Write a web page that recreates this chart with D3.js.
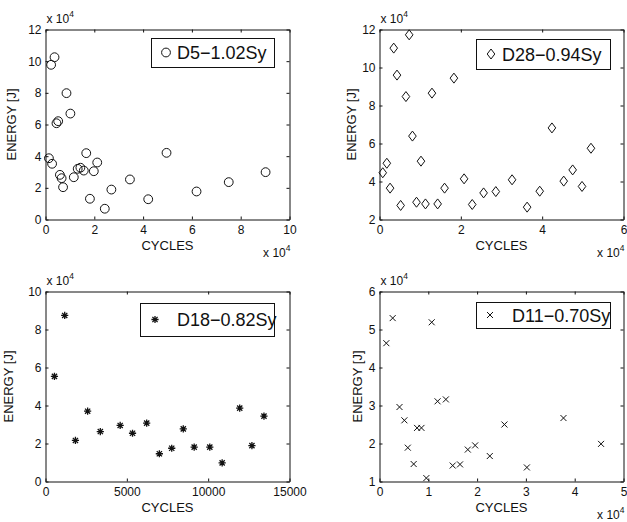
<!DOCTYPE html>
<html>
<head>
<meta charset="utf-8">
<script src="https://cdn.jsdelivr.net/npm/d3@7"></script>
<style>
  body { margin: 0; background: #fff; }
  svg { display: block; font-family: "Liberation Sans", Arial, Helvetica, sans-serif; }
</style>
</head>
<body>
<svg width="627" height="522"></svg>
<script>

// D5-1.02Sy
const p1Cycles = [1400, 2300, 3700, 2700, 4500, 5200, 8600, 10200, 5900, 6600, 7200, 11600, 13200, 14300, 15700, 16700, 18200, 19800, 21200, 24300, 27000, 34600, 42100, 49600, 61900, 75100, 90200]
const p1Energy = [38700, 97700, 102500, 35200, 60800, 62100, 79800, 66900, 28200, 26100, 20400, 26700, 32000, 32700, 30900, 41900, 13100, 30500, 36000, 6800, 18900, 25300, 12800, 42100, 17700, 23600, 29900]

// D28-0.94Sy
const p2Cycles = [800, 1800, 2600, 3500, 4300, 5200, 6500, 7300, 8100, 9100, 10200, 11300, 12900, 14300, 16000, 18300, 20800, 22800, 25600, 28600, 32600, 36300, 39400, 42400, 45300, 47500, 49800, 52000]
const p2Energy = [44600, 49600, 36500, 110200, 96000, 27400, 84700, 117200, 63900, 29100, 50700, 28200, 86500, 28200, 36500, 94400, 41400, 27900, 34000, 34700, 40900, 26500, 34900, 68200, 40200, 46100, 37400, 57500]

// D18-0.82Sy
const p3Cycles = [550, 1180, 1840, 2590, 3370, 4590, 5350, 6220, 7000, 7760, 8470, 9140, 10100, 10860, 11940, 12690, 13430]
const p3Energy = [55300, 87400, 21600, 37000, 26300, 29500, 25400, 30700, 14600, 17500, 27700, 18100, 18100, 9800, 38600, 18900, 34400]

// D11-0.70Sy
const p4Cycles = [1400, 2700, 4100, 5100, 5800, 7000, 7700, 8600, 9600, 10700, 11900, 13600, 15000, 16500, 18100, 19600, 22600, 25600, 30200, 37700, 45400]
const p4Energy = [46400, 53000, 29600, 26100, 18900, 14600, 24100, 24100, 10900, 51900, 31100, 31600, 14200, 14500, 18400, 19500, 16700, 25000, 13700, 26700, 19900]

const seriesNames = ["D5\u22121.02Sy", "D28\u22120.94Sy", "D18\u22120.82Sy", "D11\u22120.70Sy"]

const p1XTicks = [0, 20000, 40000, 60000, 80000, 100000]
const p1YTicks = [0, 20000, 40000, 60000, 80000, 100000, 120000]
const p2XTicks = [0, 20000, 40000, 60000]
const p2YTicks = [20000, 40000, 60000, 80000, 100000, 120000]
const p3XTicks = [0, 5000, 10000, 15000]
const p3YTicks = [0, 20000, 40000, 60000, 80000, 100000]
const p4XTicks = [0, 10000, 20000, 30000, 40000, 50000]
const p4YTicks = [10000, 20000, 30000, 40000, 50000, 60000]

const svg = d3.select("svg")
const ink = "#111"

const panels = [
  { cx: p1Cycles, cy: p1Energy, name: seriesNames[0], marker: "circle",
    xd: [0, 100000], yd: [0, 120000], xt: p1XTicks, yt: p1YTicks, xScaled: true,
    box: [45.5, 289.5, 29.5, 219.5], ylabX: 12, leg: [151, 274, 38, 67, 166, 177] },
  { cx: p2Cycles, cy: p2Energy, name: seriesNames[1], marker: "diamond",
    xd: [0, 60000], yd: [20000, 120000], xt: p2XTicks, yt: p2YTicks, xScaled: true,
    box: [379.5, 623.5, 29.5, 219.5], ylabX: 352, leg: [476, 610, 39, 69, 491, 502] },
  { cx: p3Cycles, cy: p3Energy, name: seriesNames[2], marker: "star",
    xd: [0, 15000], yd: [0, 100000], xt: p3XTicks, yt: p3YTicks, xScaled: false,
    box: [45.5, 289.5, 291.5, 481.5], ylabX: 9, leg: [140, 274, 303, 336, 155, 177] },
  { cx: p4Cycles, cy: p4Energy, name: seriesNames[3], marker: "cross",
    xd: [0, 50000], yd: [10000, 60000], xt: p4XTicks, yt: p4YTicks, xScaled: true,
    box: [379.5, 623.5, 291.5, 481.5], ylabX: 358, leg: [476, 610, 302, 328, 490, 512] }
]

function drawMarker(g, type, x, y) {
  if (type === "circle") {
    g.append("circle").attr("cx", x).attr("cy", y).attr("r", 4.4)
      .attr("fill", "none").attr("stroke", ink).attr("stroke-width", 1)
  } else if (type === "diamond") {
    g.append("path")
      .attr("d", `M${x},${y - 5}L${x + 3.8},${y}L${x},${y + 5}L${x - 3.8},${y}Z`)
      .attr("fill", "none").attr("stroke", ink).attr("stroke-width", 1)
  } else if (type === "star") {
    const s = 3.6, d = 2.6
    g.append("path")
      .attr("d", `M${x - s},${y}L${x + s},${y}M${x},${y - s}L${x},${y + s}M${x - d},${y - d}L${x + d},${y + d}M${x - d},${y + d}L${x + d},${y - d}`)
      .attr("fill", "none").attr("stroke", ink).attr("stroke-width", 1.3)
  } else {
    const s = 3
    g.append("path")
      .attr("d", `M${x - s},${y - s}L${x + s},${y + s}M${x - s},${y + s}L${x + s},${y - s}`)
      .attr("fill", "none").attr("stroke", ink).attr("stroke-width", 1)
  }
}

function multiplier(g, x, y, anchor) {
  const t = g.append("text").attr("x", x).attr("y", y)
    .attr("font-size", 12).attr("fill", ink).attr("text-anchor", anchor)
  t.append("tspan").text("x 10")
  t.append("tspan").text("4").attr("font-size", 8.5).attr("dy", -6)
}

panels.forEach(p => {
  const [l, r, t, b] = p.box
  const x = d3.scaleLinear().domain(p.xd).range([l, r])
  const y = d3.scaleLinear().domain(p.yd).range([b, t])
  const g = svg.append("g")

  const fmtX = d => p.xScaled ? d3.format("d")(d / 10000) : d3.format("d")(d)
  const fmtY = d => d3.format("d")(d / 10000)

  const styleAxis = ax => {
    ax.attr("font-family", null).attr("font-size", 12)
    ax.selectAll("path, line").attr("stroke", ink)
    ax.selectAll("text").attr("fill", ink)
  }

  g.append("g").attr("transform", `translate(0,${b})`)
    .call(d3.axisBottom(x).tickValues(p.xt).tickFormat(fmtX).tickSize(-3).tickSizeOuter(0).tickPadding(6))
    .call(styleAxis)
  g.append("g").attr("transform", `translate(0,${t})`)
    .call(d3.axisTop(x).tickValues(p.xt).tickFormat("").tickSize(-3).tickSizeOuter(0))
    .call(styleAxis)
  g.append("g").attr("transform", `translate(${l},0)`)
    .call(d3.axisLeft(y).tickValues(p.yt).tickFormat(fmtY).tickSize(-3).tickSizeOuter(0).tickPadding(4))
    .call(styleAxis)
  g.append("g").attr("transform", `translate(${r},0)`)
    .call(d3.axisRight(y).tickValues(p.yt).tickFormat("").tickSize(-3).tickSizeOuter(0))
    .call(styleAxis)

  // points
  const pts = g.append("g")
  p.cx.forEach((c, i) => drawMarker(pts, p.marker, x(c), y(p.cy[i])))

  // axis labels
  g.append("text").attr("x", (l + r) / 2).attr("y", b + 30)
    .attr("text-anchor", "middle").attr("font-size", 13).attr("fill", ink).text("CYCLES")
  g.append("text")
    .attr("transform", `translate(${p.ylabX + 4},${(t + b) / 2}) rotate(-90)`)
    .attr("text-anchor", "middle").attr("font-size", 13).attr("fill", ink).text("ENERGY [J]")

  multiplier(g, l + 1, t - 7, "start")
  if (p.xScaled) multiplier(g, r + 1, b + 37, "end")

  // legend
  const [lx0, lx1, ly0, ly1, mx, tx] = p.leg
  g.append("rect").attr("x", lx0 + 0.5).attr("y", ly0 + 0.5)
    .attr("width", lx1 - lx0).attr("height", ly1 - ly0)
    .attr("fill", "#fff").attr("stroke", ink).attr("stroke-width", 1)
  drawMarker(g, p.marker, mx, (ly0 + ly1) / 2)
  g.append("text").attr("x", tx).attr("y", (ly0 + ly1) / 2 + 6.5)
    .attr("font-size", 18).attr("fill", ink).text(p.name)
})

</script>
</body>
</html>
